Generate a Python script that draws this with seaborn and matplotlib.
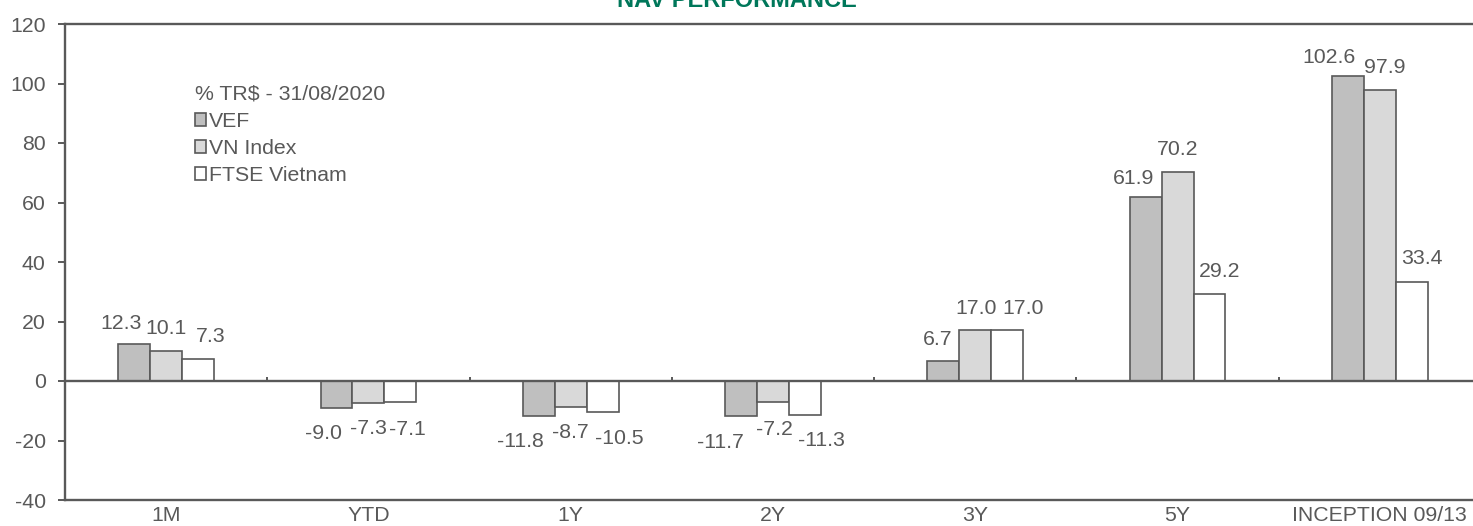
import numpy as np
import pandas as pd
import matplotlib
matplotlib.use("Agg")
import matplotlib.pyplot as plt
import seaborn as sns

# Performance figures (% total return in USD)
periods = ["1M", "YTD", "1Y", "2Y", "3Y", "5Y", "INCEPTION 09/13"]
series_names = ["VEF", "VN Index", "FTSE Vietnam"]
vef = [12.3, -9.0, -11.8, -11.7, 6.7, 61.9, 102.6]
vn_index = [10.1, -7.3, -8.7, -7.2, 17.0, 70.2, 97.9]
ftse_vietnam = [7.3, -7.1, -10.5, -11.3, 17.0, 29.2, 33.4]
y_ticks = [-40, -20, 0, 20, 40, 60, 80, 100, 120]
legend_title = "% TR$ - 31/08/2020"
chart_title = "NAV PERFORMANCE"

# Value-label nudges (pixels) so neighbouring labels do not collide
label_nudges = [
    [(-13, 21), (-13, -26), (-18, -25), (-21, -27), (-6, 22), (-12, 18), (-19, 18)],
    [(0, 22), (0, -26), (0, -26), (1, -27), (1, 22), (0, 23), (5, 22)],
    [(13, 23), (7, -27), (17, -26), (17, -26), (16, 22), (10, 23), (10, 23)],
]

grey = "#595959"
fills = ["#BFBFBF", "#D9D9D9", "#FFFFFF"]
fs = 15.3

sns.set_theme(style="white")
plt.rcParams["font.family"] = ["Liberation Sans", "DejaVu Sans"]
plt.rcParams["text.color"] = grey
plt.rcParams["axes.unicode_minus"] = False

df = pd.DataFrame({
    "period": periods * 3,
    "series": np.repeat(series_names, len(periods)),
    "value": vef + vn_index + ftse_vietnam,
})

W, H = 1473, 526
fig = plt.figure(figsize=(W / 100, H / 100), dpi=100)
ax = fig.add_axes([65 / W, 26 / H, (1481 - 65) / W, (500 - 24) / H])

sns.barplot(data=df, x="period", y="value", hue="series", order=periods,
            hue_order=series_names, palette=fills, width=0.473, gap=0,
            edgecolor=grey, linewidth=1.2, saturation=1, ax=ax, legend=True)

ax.set_xlim(-0.5, len(periods) - 0.5)
ax.set_ylim(y_ticks[0], y_ticks[-1])
ax.set_yticks(y_ticks)
ax.set_xlabel("")
ax.set_ylabel("")

for side in ["left", "top", "bottom"]:
    ax.spines[side].set_visible(True)
    ax.spines[side].set_color(grey)
    ax.spines[side].set_linewidth(1.7)
ax.spines["right"].set_visible(False)

ax.tick_params(axis="y", left=True, length=5, width=1.4, color=grey,
               labelsize=fs, labelcolor=grey, pad=9)
ax.tick_params(axis="x", bottom=False, length=0, labelsize=fs,
               labelcolor=grey, pad=4)

# Category axis at zero, with small marks between the groups
ax.axhline(0, color=grey, lw=1.7, zorder=4)
ax.vlines(np.arange(0.5, len(periods) - 0.5), 0, 1.4, color=grey, lw=1.4, zorder=4)

# Value labels
values = [vef, vn_index, ftse_vietnam]
for s, container in enumerate(ax.containers):
    for i, bar in enumerate(container):
        v = values[s][i]
        cx = bar.get_x() + bar.get_width() / 2
        dx, dy = label_nudges[s][i]
        ax.annotate(f"{v:.1f}", xy=(cx, v), xytext=(dx, dy),
                    textcoords="offset pixels", ha="center", va="center",
                    fontsize=fs, color=grey)

# Legend
handles, labels = ax.get_legend_handles_labels()
leg = ax.legend(handles, labels, title=legend_title, loc="upper left",
                bbox_to_anchor=(0.0915, 0.872), frameon=False, fontsize=fs,
                title_fontsize=fs, handlelength=0.55, handleheight=0.55,
                handletextpad=0.12, labelspacing=0.38, borderpad=0,
                borderaxespad=0, alignment="left")
for h in leg.legend_handles:
    h.set_edgecolor(grey)
    h.set_linewidth(1.2)
leg.get_title().set_color(grey)

fig.text(737 / W, 1 - 7 / H, chart_title, ha="center", va="baseline",
         fontsize=17, fontweight="bold", color="#00775A")

fig.savefig("out.png", dpi=100)
